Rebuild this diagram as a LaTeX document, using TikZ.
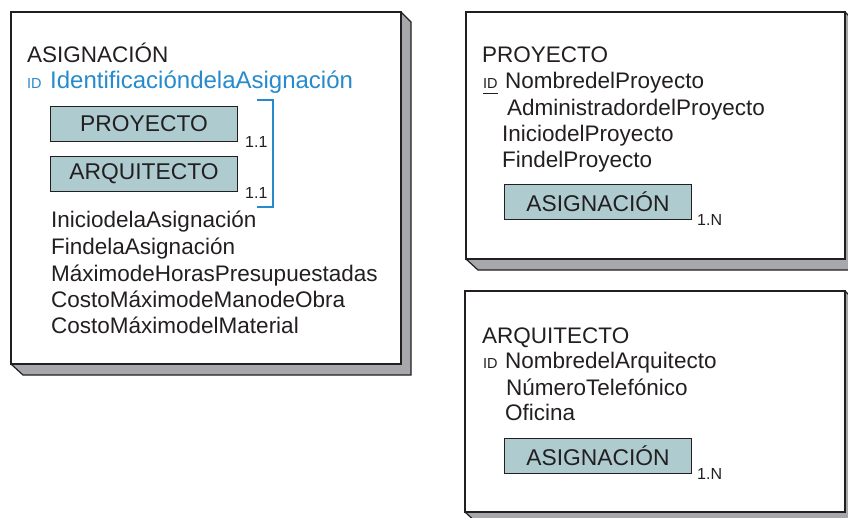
\documentclass[tikz,border=0pt]{standalone}
\usepackage{fontspec}
\setmainfont{Liberation Sans}
\usepackage{xcolor}
\usepackage{tikz}

\definecolor{azul}{RGB}{38,139,204}
\definecolor{celeste}{RGB}{174,203,208}
\definecolor{sombra}{RGB}{167,168,172}
\definecolor{tinta}{RGB}{35,31,32}

\tikzset{
  texto/.style={anchor=base west,inner sep=0pt,text=tinta,font=\fontsize{22.5}{27}\selectfont},
  clavetexto/.style={texto,text=azul,font=\fontsize{24}{28}\selectfont},
  ident/.style={anchor=base west,inner sep=0pt,text=tinta,font=\fontsize{14.5}{16}\selectfont},
  caja/.style={draw=tinta,fill=celeste,line width=0.9pt,minimum width=187pt,minimum height=35pt,inner sep=0pt,text=tinta,font=\fontsize{22.8}{27}\selectfont},
  card/.style={anchor=base west,inner sep=0pt,text=tinta,font=\fontsize{16}{18}\selectfont},
}

\begin{document}
\begin{tikzpicture}[x=1pt,y=-1pt]
    \useasboundingbox (0,0) rectangle (848,517);
    \clip (0,0) rectangle (848,517);

    % cajas con profundidad
    \foreach \izq/\arr/\der/\aba in {11/12/401/364,466/12/845/259,465/291/845/512} {
      \filldraw[fill=sombra,draw=tinta,line width=1.2pt,line join=miter]
        (\der,\arr) -- (\der+10,\arr+10) -- (\der+10,\aba+11) -- (\izq+12,\aba+11) -- (\izq,\aba) -- cycle;
      \filldraw[fill=white,draw=tinta,line width=1.5pt] (\izq,\arr) rectangle (\der,\aba);
    }

    % ASIGNACION
    \node[texto] (asig) at (27,62) {ASIGNACIÓN};
    \node[ident,text=azul] (idasig) at (27,88) {ID};
    \node[clavetexto] (clave) at (50,88) {IdentificacióndelaAsignación};
    \node[caja] (rproy) at (144,123.5) {PROYECTO};
    \node[caja] (rarq) at (144,174) {ARQUITECTO};
    \node[card] (card1) at (245,147) {1.1};
    \node[card] (card2) at (245,198) {1.1};
    \draw[draw=azul,line width=1.1pt] (257,100) -- (273,100) -- (273,207) -- (257,207);

    \foreach \y/\nombre in {227/IniciodelaAsignación,254/FindelaAsignación,
        281/MáximodeHorasPresupuestadas,307/CostoMáximodeManodeObra,
        333/CostoMáximodelMaterial} {
      \node[texto] (atr\y) at (51,\y) {\nombre};
    }

    % PROYECTO
    \node[texto] (proy) at (482,62) {PROYECTO};
    \node[ident] (idproy) at (483,88) {ID};
    \draw[tinta,line width=0.8pt] ([yshift=-5pt]idproy.base west) -- ([yshift=-5pt]idproy.base east);
    \node[texto] (nproy) at (505,88) {NombredelProyecto};
    \node[texto] (adm) at (507,115) {AdministradordelProyecto};
    \node[texto] (iniproy) at (502,141) {IniciodelProyecto};
    \node[texto] (finproy) at (502,167) {FindelProyecto};
    \node[caja] (rasig1) at (598,202) {ASIGNACIÓN};
    \node[card] (card3) at (697,225) {1.N};

    % ARQUITECTO
    \node[texto] (arq) at (482,343) {ARQUITECTO};
    \node[ident] (idarq) at (483,368) {ID};
    \node[texto] (narq) at (505,368) {NombredelArquitecto};
    \node[texto] (tel) at (506,395) {NúmeroTelefónico};
    \node[texto] (ofi) at (505,420) {Oficina};
    \node[caja] (rasig2) at (598,455.5) {ASIGNACIÓN};
    \node[card] (card4) at (697,479) {1.N};
  \end{tikzpicture}
\end{document}
